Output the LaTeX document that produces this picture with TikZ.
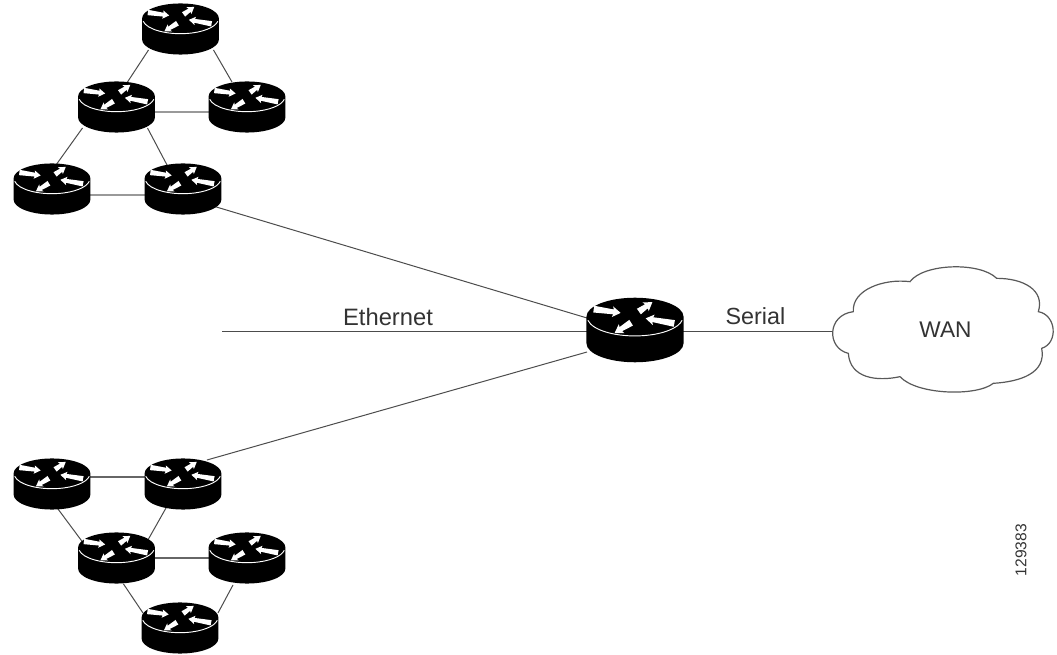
\documentclass[tikz,border=0pt]{standalone}
\usepackage{fontspec}
\setmainfont{Liberation Sans}
\newcommand{\rarrow}[4]{\begin{scope}[shift={(#1,#2)},rotate=#4]
\fill[white] (0,-.07) -- (#3-.15,-.05) -- (#3-.17,-.11) -- (#3,0) -- (#3-.17,.11) -- (#3-.15,.05) -- (0,.07) -- cycle;
\end{scope}}
\tikzset{
  router/.pic={
    \fill[black] (-1,.275) -- (-1,-.275) arc[start angle=180,end angle=360,x radius=1,y radius=.39] -- (1,.275) arc[start angle=0,end angle=180,x radius=1,y radius=.39] -- cycle;
    \draw[white,line width=.7pt] (-.97,.2) arc[start angle=190,end angle=350,x radius=.985,y radius=.39];
    \rarrow{-.85}{.43}{.56}{-8}
    \rarrow{.08}{.38}{.34}{35}
    \rarrow{-.08}{.15}{.4}{212}
    \rarrow{.81}{.135}{.6}{170}
  },
  smallr/.style={x=28.8pt,y=28.8pt},
  bigr/.style={x=36.4pt,y=36.4pt},
  hub/.style={inner sep=0pt,minimum width=72pt,minimum height=48pt},
  link/.style={draw=black!70,line width=.75pt},
  glink/.style={draw=black!40,line width=1pt},
  dlink/.style={draw=black!60,line width=.9pt},
  lbl/.style={text=black!80,font=\fontsize{17}{20}\selectfont,inner sep=0pt},
}
\begin{document}
\begin{tikzpicture}[x=.75pt,y=-.75pt]
\useasboundingbox (0,0) rectangle (1057,655);
\foreach \n/\x/\y in {r1/180.5/29,r2/116.5/107,r3/247/107,r4/52/189,r5/183/189,r6/52/484,r7/183/484,r8/116.5/558,r9/247/558,r10/180/628}
  \node[hub] (\n) at (\x,\y) {};
\node[hub] (hub) at (635,330) {};
\coordinate (ethend) at (222,332);
\coordinate (cloudport) at (834,332);
% connectors
\draw[link] ([shift={(-32,21)}]r1.center) -- ([shift={(11,-25)}]r2.center);
\draw[link] ([shift={(33,21)}]r1.center) -- ([shift={(-15,-25)}]r3.center);
\draw[glink] ([yshift=-3.75pt]r2.center) -- ([yshift=-3.75pt]r3.center);
\draw[link] ([shift={(-34,21)}]r2.center) -- ([shift={(4,-24)}]r4.center);
\draw[link] ([shift={(31,21)}]r2.center) -- ([shift={(-16,-24)}]r5.center);
\draw[glink] ([yshift=-4.5pt]r4.center) -- ([yshift=-4.5pt]r5.center);
\draw[link] ([shift={(30,17)}]r5.center) -- ([shift={(-48,-12)}]hub.center);
\draw[link] (ethend) -- (hub.center |- ethend);
\draw[link] (hub.center |- cloudport) -- (cloudport);
\draw[link] ([shift={(-48,22)}]hub.center) -- ([shift={(24,-24)}]r7.center);
\draw[dlink] ([yshift=5.25pt]r6.center) -- ([yshift=5.25pt]r7.center);
\draw[link] ([shift={(6,25)}]r6.center) -- ([shift={(-34,-16)}]r8.center);
\draw[link] ([shift={(-17,24)}]r7.center) -- ([shift={(32,-19)}]r8.center);
\draw[dlink] (r8.center) -- (r9.center);
\draw[link] ([shift={(7,26)}]r8.center) -- ([shift={(-37,-15)}]r10.center);
\draw[link] ([shift={(-14,27)}]r9.center) -- ([shift={(38,-15)}]r10.center);
% routers
\foreach \n in {r1,r2,r3,r4,r5,r6,r7,r8,r9,r10}
  \pic[smallr] at (\n.center) {router};
\pic[bigr] at (hub.center) {router};
% cloud
\begin{scope}[shift={(820,260)},x=.25pt,y=-.25pt]
\draw[draw=black!65,line width=.9pt,fill=white] (100,155) .. controls (95,90) and (190,55) .. (270,65)
 .. controls (310,10) and (480,5) .. (530,55)
 .. controls (610,55) and (675,90) .. (655,155)
 .. controls (710,165) and (715,250) .. (665,265)
 .. controls (680,340) and (600,365) .. (520,370)
 .. controls (470,410) and (290,405) .. (240,350)
 .. controls (170,365) and (90,355) .. (85,280)
 .. controls (20,265) and (20,165) .. (100,155) -- cycle;
\end{scope}
\node[lbl] (wan) at (945.5,330) {WAN};
\node[lbl,font=\fontsize{17.8}{20}\selectfont] (eth) at (388,317) {Ethernet};
\node[lbl,font=\fontsize{17.5}{20}\selectfont] (ser) at (755.5,316) {Serial};
\node[lbl,font=\fontsize{11.7}{14}\selectfont,rotate=90] (num) at (1021,550) {129383};
\end{tikzpicture}
\end{document}
